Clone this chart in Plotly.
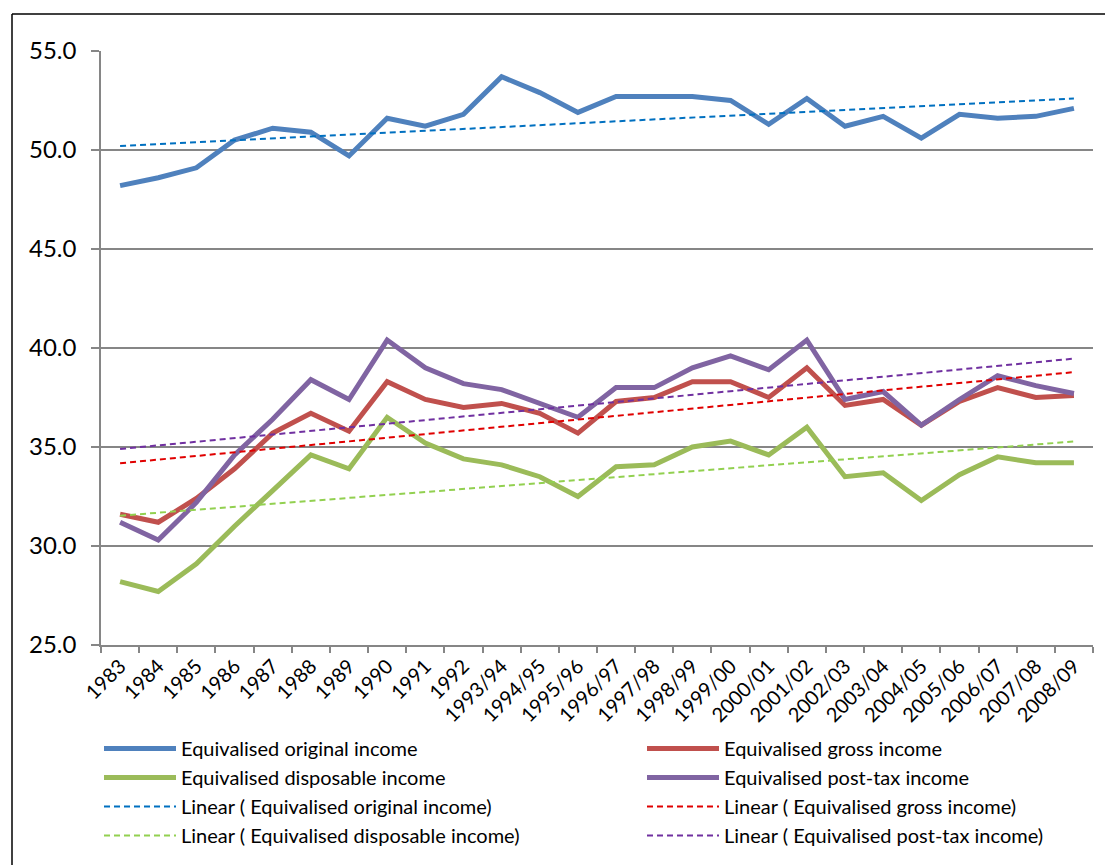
import numpy as np
import plotly.graph_objects as go

years = ["1983", "1984", "1985", "1986", "1987", "1988", "1989", "1990", "1991", "1992",
         "1993/94", "1994/95", "1995/96", "1996/97", "1997/98", "1998/99", "1999/00",
         "2000/01", "2001/02", "2002/03", "2003/04", "2004/05", "2005/06", "2006/07",
         "2007/08", "2008/09"]

original = [48.2, 48.6, 49.1, 50.5, 51.1, 50.9, 49.7, 51.6, 51.2, 51.8,
            53.7, 52.9, 51.9, 52.7, 52.7, 52.7, 52.5, 51.3, 52.6, 51.2,
            51.7, 50.6, 51.8, 51.6, 51.7, 52.1]
gross = [31.6, 31.2, 32.4, 33.9, 35.7, 36.7, 35.8, 38.3, 37.4, 37.0,
         37.2, 36.7, 35.7, 37.3, 37.5, 38.3, 38.3, 37.5, 39.0, 37.1,
         37.4, 36.1, 37.3, 38.0, 37.5, 37.6]
disposable = [28.2, 27.7, 29.1, 31.0, 32.8, 34.6, 33.9, 36.5, 35.2, 34.4,
              34.1, 33.5, 32.5, 34.0, 34.1, 35.0, 35.3, 34.6, 36.0, 33.5,
              33.7, 32.3, 33.6, 34.5, 34.2, 34.2]
posttax = [31.2, 30.3, 32.2, 34.6, 36.4, 38.4, 37.4, 40.4, 39.0, 38.2,
           37.9, 37.2, 36.5, 38.0, 38.0, 39.0, 39.6, 38.9, 40.4, 37.4,
           37.8, 36.1, 37.4, 38.6, 38.1, 37.7]

names = ["Equivalised original income", "Equivalised gross income",
         "Equivalised disposable income", "Equivalised post-tax income"]
line_colors = ["#4F81BD", "#C0504D", "#9BBB59", "#8064A2"]
trend_colors = ["#0070C0", "#E00000", "#92D050", "#7030A0"]
series = [original, gross, disposable, posttax]
legend_ids = ["legend", "legend2", "legend", "legend2"]

FONT = "Lato"
fig = go.Figure()
idx = np.arange(len(years))

for s, n, c, lg in zip(series, names, line_colors, legend_ids):
    fig.add_trace(go.Scatter(x=years, y=s, mode="lines", name=n,
                             line=dict(color=c, width=5), legend=lg))

for s, n, c, lg in zip(series, names, trend_colors, legend_ids):
    k, b = np.polyfit(idx, np.array(s), 1)
    fig.add_trace(go.Scatter(x=years, y=k * idx + b, mode="lines",
                             name="Linear ( " + n + ")",
                             line=dict(color=c, width=2, dash="6px,4px"), legend=lg))

L, R, T, B = 101, 12, 51, 220
W, H = 1105, 865
pw, ph = W - L - R, H - T - B

def px(xp):
    return (xp - L) / pw

def py(yp):
    return (H - B - yp) / ph

legend_common = dict(orientation="v", xanchor="left", yanchor="top",
                     font=dict(family=FONT, size=20, color="#000000"),
                     itemwidth=72, bgcolor="rgba(0,0,0,0)", tracegroupgap=0)

fig.update_layout(
    width=W, height=H,
    margin=dict(l=L, r=R, t=T, b=B, autoexpand=False),
    paper_bgcolor="white", plot_bgcolor="white",
    font=dict(family=FONT, color="#000000"),
    legend=dict(x=px(99), y=py(729), **legend_common),
    legend2=dict(x=px(642), y=py(729), **legend_common),
    xaxis=dict(type="category", tickson="boundaries", ticks="outside", ticklen=6,
               tickcolor="#868686", tickwidth=1.5, showline=True, linecolor="#868686",
               linewidth=1.5, showgrid=False, tickangle=-45,
               tickfont=dict(family=FONT, size=20, color="#000000"),
               range=[-0.5, len(years) - 0.5]),
    yaxis=dict(range=[25, 55], dtick=5, tickformat=".1f", ticks="outside", ticklen=8,
               tickcolor="#868686", tickwidth=1.5, showline=True, linecolor="#868686",
               linewidth=1.5, showgrid=True, gridcolor="#868686", gridwidth=1.5,
               zeroline=False, ticklabelstandoff=10,
               tickfont=dict(family=FONT, size=24, color="#000000")),
    shapes=[
        dict(type="line", xref="paper", yref="paper", x0=px(12), x1=px(1106),
             y0=py(14), y1=py(14), line=dict(color="#000000", width=1.5)),
        dict(type="line", xref="paper", yref="paper", x0=px(12), x1=px(12),
             y0=py(14), y1=py(866), line=dict(color="#000000", width=1.5)),
    ],
)

fig.write_html("out.html", config={"displayModeBar": False},
               post_script="document.body.style.margin='0';")
